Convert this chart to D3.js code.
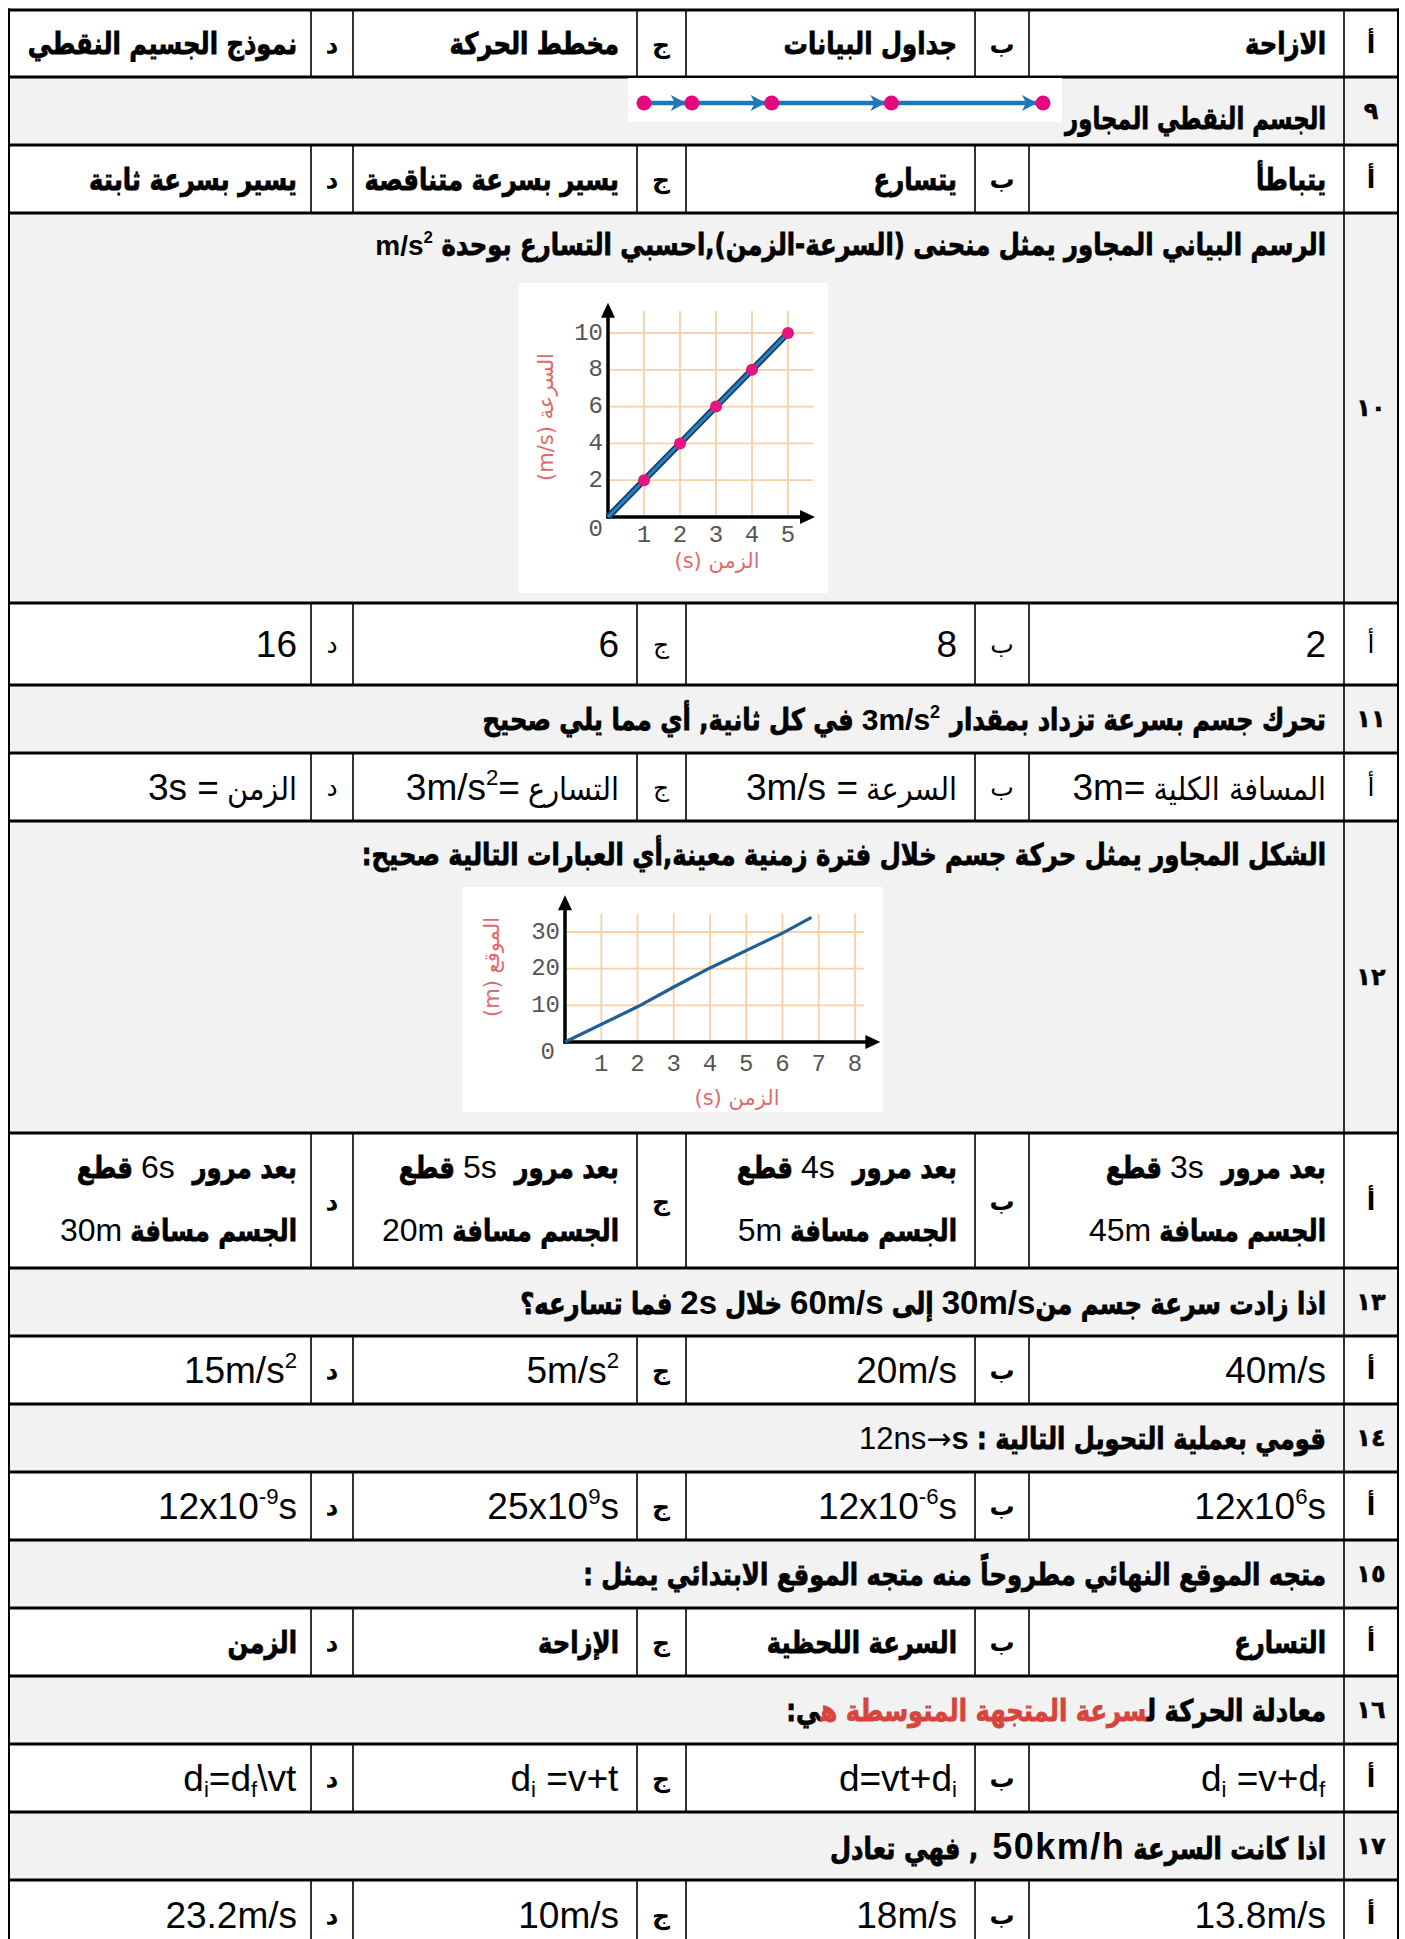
<!DOCTYPE html>
<html lang="ar">
<head>
<meta charset="utf-8">
<title>worksheet</title>
<script src="https://cdn.jsdelivr.net/npm/d3@7"></script>
<style>
  body { margin: 0; background: #fff; }
  svg { display: block; }
</style>
</head>
<body>
<svg id="sheet" width="1405" height="1939"></svg>
<script>
// ---------- chart data ----------
// q9 motion diagram: dot positions along the track
var dotPositions = [0, 1.2, 3.2, 6.2, 10];

// q10 speed-time graph
var speedTimes  = [0, 1, 2, 3, 4, 5];
var speedValues = [0, 2, 4, 6, 8, 10];
var speedTicksX = [1, 2, 3, 4, 5];
var speedTicksY = [2, 4, 6, 8, 10];

// q12 position-time graph
var posTimes  = [0, 2, 3, 4, 6, 6.8];
var posValues = [0, 9.6, 15, 20.2, 29.7, 34];
var posTicksX = [1, 2, 3, 4, 5, 6, 7, 8];
var posTicksY = [10, 20, 30];

// ---------- text runs ----------
// A = arabic bold, R = arabic regular, L = latin, B = latin bold
// ^..^ superscript, _.._ subscript. runs are listed left -> right as seen
function A(t, o) { return Object.assign({t: t, k: "ab"}, o); }
function R(t, o) { return Object.assign({t: t, k: "ar"}, o); }
function L(t, o) { return Object.assign({t: t, k: "l"}, o); }
function B(t, o) { return Object.assign({t: t, k: "lb"}, o); }

var questionNums = ["٩", "١٠", "١١", "١٢", "١٣", "١٤", "١٥", "١٦", "١٧"];
var optionLetters = ["أ", "ب", "ج", "د"];

var questions = [
  [A("الجسم النقطي المجاور", {sq: 0.76})],
  [B("m/s^2^", {size: 28}), A("الرسم البياني المجاور يمثل منحنى (السرعة-الزمن),احسبي التسارع بوحدة")],
  [A("في كل ثانية, أي مما يلي صحيح"), B("3m/s^2^", {size: 30}), A("تحرك جسم بسرعة تزداد بمقدار")],
  [A("الشكل المجاور يمثل حركة جسم خلال فترة زمنية معينة,أي العبارات التالية صحيح:")],
  [A("فما تسارعه؟"), B("2s", {size: 33}), A("خلال"), B("60m/s", {size: 33}), A("إلى"),
   B("30m/s", {size: 33}), A("اذا زادت سرعة جسم من", {gap: 0})],
  [L("12ns", {size: 31}), L("→", {size: 30, gap: 0, font: "'DejaVu Sans', sans-serif"}),
   B("s", {size: 31, gap: 0}), A("قومي بعملية التحويل التالية :")],
  [A("متجه الموقع النهائي مطروحاً منه متجه الموقع الابتدائي يمثل :")],
  [A([["معادلة الحركة ل", "#000"], ["سرعة المتجهة المتوسطة ه", "#d6443c"], ["ي:", "#000"]])],
  [A(", فهي تعادل"), B("50km/h", {size: 36, gap: 14}), A("اذا كانت السرعة")]
];

function one() { return [Array.prototype.slice.call(arguments)]; }
function two(a, b) { return [a, b]; }

var optionRows = [
  [one(A("الازاحة")), one(A("جداول البيانات")), one(A("مخطط الحركة")), one(A("نموذج الجسيم النقطي"))],
  [one(A("يتباطأ")), one(A("يتسارع")), one(A("يسير بسرعة متناقصة")), one(A("يسير بسرعة ثابتة"))],
  [one(L("2")), one(L("8")), one(L("6")), one(L("16"))],
  [one(L("3m="), R("المسافة الكلية")), one(L("3m/s ="), R("السرعة")),
   one(L("3m/s^2^="), R("التسارع")), one(L("3s ="), R("الزمن"))],
  [two([A("قطع"), L("3s", {size: 32}), A("بعد مرور", {gap: 16})], [L("45m", {size: 32}), A("الجسم مسافة")]),
   two([A("قطع"), L("4s", {size: 32}), A("بعد مرور", {gap: 16})], [L("5m", {size: 32}), A("الجسم مسافة")]),
   two([A("قطع"), L("5s", {size: 32}), A("بعد مرور", {gap: 16})], [L("20m", {size: 32}), A("الجسم مسافة")]),
   two([A("قطع"), L("6s", {size: 32}), A("بعد مرور", {gap: 16})], [L("30m", {size: 32}), A("الجسم مسافة")])],
  [one(L("40m/s")), one(L("20m/s")), one(L("5m/s^2^")), one(L("15m/s^2^"))],
  [one(L("12x10^6^s")), one(L("12x10^-6^s")), one(L("25x10^9^s")), one(L("12x10^-9^s"))],
  [one(A("التسارع")), one(A("السرعة اللحظية")), one(A("الإزاحة")), one(A("الزمن"))],
  [one(L("d_i_ =v+d_f_")), one(L("d=vt+d_i_")), one(L("d_i_ =v+t")), one(L("d_i_=d_f_\\vt"))],
  [one(L("13.8m/s")), one(L("18m/s")), one(L("10m/s")), one(L("23.2m/s"))]
];
var optionLetterBold = [true, true, false, false, true, true, true, true, true, true];

// ---------- layout ----------
var FONT_AR = "'DejaVu Sans', sans-serif";
var FONT_LAT = "'Liberation Sans', Arial, sans-serif";
var colEdges = [9, 311, 353, 637, 686, 975, 1029, 1344, 1398];
var rowEdges = [10, 77, 145, 213, 603, 685, 753, 821, 1133, 1268, 1336, 1404,
                1472, 1540, 1608, 1676, 1744, 1812, 1880, 1950];
var cellRight = [1326, 957, 619, 297];
var letterX = [1371, 1002, 661, 332];
var questionY = [118, 244, null, 854, null, null, null, null, null];
var sizes = {ab: 30, ar: 32, l: 37};
var squeeze = {ab: 0.81, ar: 0.9, l: 1, lb: 1};

var svg = d3.select("#sheet");
var nRows = rowEdges.length - 1;
function mid(i) { return (rowEdges[i] + rowEdges[i + 1]) / 2; }

// bands
svg.selectAll("rect.band").data(d3.range(nRows)).join("rect")
  .attr("class", "band")
  .attr("x", colEdges[0]).attr("y", function(i) { return rowEdges[i]; })
  .attr("width", colEdges[8] - colEdges[0])
  .attr("height", function(i) { return rowEdges[i + 1] - rowEdges[i]; })
  .attr("fill", function(i) { return i % 2 ? "#f2f2f2" : "#ffffff"; });

// ---------- text helpers ----------
function parseParts(t) {
  return t.split(/(\^[^\^]*\^|_[^_]*_)/).filter(function(s) { return s.length; }).map(function(s) {
    if (s[0] === "^") return {s: s.slice(1, -1), m: "sup"};
    if (s[0] === "_") return {s: s.slice(1, -1), m: "sub"};
    return {s: s, m: ""};
  });
}

function renderRun(g, run, size) {
  var ar = run.k === "ab" || run.k === "ar";
  var t = g.append("text")
    .attr("font-family", run.font || (ar ? FONT_AR : FONT_LAT))
    .attr("font-weight", (run.k === "ab" || run.k === "lb") ? "bold" : "normal")
    .attr("font-size", size)
    .attr("fill", "#000");
  if (ar) {
    t.attr("direction", "rtl");
    var pieces = Array.isArray(run.t) ? run.t : [[run.t, "#000"]];
    pieces.forEach(function(p) {
      var sp = t.append("tspan").attr("fill", p[1]).text(p[0]);
      if (run.k === "ab") sp.attr("stroke", p[1]).attr("stroke-width", 0.8);
    });
  } else {
    if (run.k === "lb" && run.t.indexOf("km") >= 0) t.attr("letter-spacing", 1.5);
    var cur = 0;
    parseParts(run.t).forEach(function(p) {
      var sp = t.append("tspan").text(p.s);
      var target = p.m === "sup" ? -0.4 * size : p.m === "sub" ? 0.16 * size : 0;
      if (target !== cur) { sp.attr("dy", target - cur); cur = target; }
      if (p.m) sp.attr("font-size", size * 0.6);
    });
  }
  return t;
}

// lay out a line of runs right-aligned at xRight, centred on yMid
function drawLine(parent, runs, xRight, yMid) {
  var g = parent.append("g");
  var sz = runs.map(function(r) { return r.size || sizes[r.k === "lb" ? "l" : r.k]; });
  var baseline = yMid + 0.35 * d3.max(sz);
  var x = xRight;
  for (var i = runs.length - 1; i >= 0; i--) {
    var rg = g.append("g");
    var t = renderRun(rg, runs[i], sz[i]);
    var bb = t.node().getBBox();
    var sx = runs[i].sq || squeeze[runs[i].k];
    var w = bb.width * sx;
    rg.attr("transform", "translate(" + (x - (bb.x + bb.width) * sx) + "," + baseline + ") scale(" + sx + ",1)");
    x -= w + (runs[i].gap != null ? runs[i].gap : 8);
  }
  return g;
}

var textLayer = svg.append("g");

// question rows
questions.forEach(function(runs, k) {
  var i = 2 * k + 1;
  var y = questionY[k] != null ? questionY[k] : mid(i);
  drawLine(textLayer, runs, cellRight[0], y);
  textLayer.append("text")
    .attr("x", letterX[0]).attr("y", mid(i) + 8)
    .attr("text-anchor", "middle")
    .attr("font-family", FONT_AR).attr("font-weight", "bold").attr("font-size", 24)
    .attr("stroke", "#000").attr("stroke-width", 0.5)
    .text(questionNums[k]);
});

// option rows
optionRows.forEach(function(cells, j) {
  var i = 2 * j;
  var cy = mid(i);
  cells.forEach(function(lines, c) {
    textLayer.append("text")
      .attr("x", letterX[c]).attr("y", cy + 9)
      .attr("text-anchor", "middle")
      .attr("font-family", FONT_AR)
      .attr("font-weight", optionLetterBold[j] ? "bold" : "normal")
      .attr("font-size", 25)
      .text(optionLetters[c]);
    if (lines.length === 1) {
      drawLine(textLayer, lines[0], cellRight[c], cy);
    } else {
      drawLine(textLayer, lines[0], cellRight[c], cy - 34);
      drawLine(textLayer, lines[1], cellRight[c], cy + 29);
    }
  });
});

// ---------- grid lines of the table ----------
var lines = svg.append("g").attr("stroke", "#000");
d3.range(nRows).forEach(function(i) {
  var xs = i % 2 ? [colEdges[7]] : colEdges.slice(1, 8);
  xs.forEach(function(x) {
    lines.append("line").attr("x1", x).attr("x2", x)
      .attr("y1", rowEdges[i]).attr("y2", rowEdges[i + 1]).attr("stroke-width", 1.6);
  });
});
[colEdges[0], colEdges[8]].forEach(function(x) {
  lines.append("line").attr("x1", x).attr("x2", x)
    .attr("y1", rowEdges[0] - 1.5).attr("y2", rowEdges[nRows]).attr("stroke-width", 2);
});
lines.selectAll("line.h").data(rowEdges).join("line").attr("class", "h")
  .attr("x1", colEdges[0] - 1).attr("x2", colEdges[8] + 1)
  .attr("y1", function(d) { return d; }).attr("y2", function(d) { return d; })
  .attr("stroke-width", 3.2);

// ---------- q9 motion diagram ----------
var gm = svg.append("g");
gm.append("rect").attr("x", 628).attr("y", 78).attr("width", 434).attr("height", 44).attr("fill", "#fff");
var xm = d3.scaleLinear().domain([0, 10]).range([644, 1043]);
var my = 103;
gm.append("line").attr("x1", xm(0)).attr("x2", xm(10)).attr("y1", my).attr("y2", my)
  .attr("stroke", "#1f77b8").attr("stroke-width", 4.5);
gm.selectAll("path.head").data(dotPositions.slice(1)).join("path").attr("class", "head")
  .attr("d", function(d) {
    var tip = xm(d) - 6;
    return "M" + tip + "," + my + "L" + (tip - 15) + "," + (my - 8) + "L" + (tip - 11) + "," + my +
           "L" + (tip - 15) + "," + (my + 8) + "Z";
  })
  .attr("fill", "#1f77b8");
gm.selectAll("circle").data(dotPositions).join("circle")
  .attr("cx", function(d) { return xm(d); }).attr("cy", my).attr("r", 7.5)
  .attr("fill", "#e6087f");

// ---------- graph helpers ----------
function axisArrows(g, x0, y0, yTop, xEnd) {
  g.append("line").attr("x1", x0).attr("x2", x0).attr("y1", y0 + 1.5).attr("y2", yTop + 12)
    .attr("stroke", "#000").attr("stroke-width", 3.5);
  g.append("line").attr("x1", x0 - 1.5).attr("x2", xEnd - 12).attr("y1", y0).attr("y2", y0)
    .attr("stroke", "#000").attr("stroke-width", 3.5);
  g.append("path").attr("d", "M" + x0 + "," + yTop + "L" + (x0 - 7) + "," + (yTop + 15) + "L" + (x0 + 7) + "," + (yTop + 15) + "Z");
  g.append("path").attr("d", "M" + xEnd + "," + y0 + "L" + (xEnd - 15) + "," + (y0 - 7) + "L" + (xEnd - 15) + "," + (y0 + 7) + "Z");
}
function tickText(g, x, y, txt, anchor) {
  g.append("text").attr("x", x).attr("y", y).attr("text-anchor", anchor)
    .attr("dominant-baseline", "central")
    .attr("font-family", "'Liberation Mono', 'DejaVu Sans Mono', monospace")
    .attr("font-size", 24).attr("fill", "#555").text(txt);
}
function axisTitle(g, x, y, txt, rotate) {
  g.append("text")
    .attr("transform", "translate(" + x + "," + y + ")" + (rotate ? " rotate(-90)" : ""))
    .attr("text-anchor", "middle").attr("dominant-baseline", "central")
    .attr("direction", "rtl")
    .attr("font-family", FONT_AR).attr("font-size", 21).attr("fill", "#e06a6a").text(txt);
}

// ---------- q10 speed-time graph ----------
var g10 = svg.append("g");
g10.append("rect").attr("x", 519).attr("y", 283).attr("width", 309).attr("height", 310).attr("fill", "#fff");
var x10 = d3.scaleLinear().domain([0, 5]).range([608, 788]);
var y10 = d3.scaleLinear().domain([0, 10]).range([517, 333]);
g10.selectAll("line.gv").data(speedTicksX).join("line").attr("class", "gv")
  .attr("x1", x10).attr("x2", x10).attr("y1", y10(0)).attr("y2", y10(11.2))
  .attr("stroke", "#f6d2a6").attr("stroke-width", 1.8);
g10.selectAll("line.gh").data(speedTicksY).join("line").attr("class", "gh")
  .attr("y1", y10).attr("y2", y10).attr("x1", x10(0)).attr("x2", x10(5.7))
  .attr("stroke", "#f6d2a6").attr("stroke-width", 1.8);
axisArrows(g10, x10(0), y10(0), y10(11.65), x10(5.75));
speedTicksY.forEach(function(v) { tickText(g10, x10(0) - 5, y10(v), String(v), "end"); });
speedTicksX.forEach(function(t) { tickText(g10, x10(t), y10(0) + 18, String(t), "middle"); });
tickText(g10, x10(0) - 5, y10(0) + 12, "0", "end");
var speedPts = speedTimes.map(function(t, i) { return [t, speedValues[i]]; });
var line10 = d3.line().x(function(d) { return x10(d[0]); }).y(function(d) { return y10(d[1]); });
g10.append("path").attr("d", line10(speedPts)).attr("fill", "none")
  .attr("stroke", "#123f63").attr("stroke-width", 6.5);
g10.append("path").attr("d", line10(speedPts)).attr("fill", "none")
  .attr("stroke", "#2a7fc0").attr("stroke-width", 3);
g10.selectAll("circle").data(speedPts.slice(1)).join("circle")
  .attr("cx", function(d) { return x10(d[0]); }).attr("cy", function(d) { return y10(d[1]); })
  .attr("r", 6).attr("fill", "#e4157f");
axisTitle(g10, 717, 561, "الزمن (s)", false);
axisTitle(g10, 546, 417, "السرعة (m/s)", true);

// ---------- q12 position-time graph ----------
var g12 = svg.append("g");
g12.append("rect").attr("x", 463).attr("y", 887).attr("width", 420).attr("height", 225).attr("fill", "#fff");
var x12 = d3.scaleLinear().domain([0, 8]).range([565, 855]);
var y12 = d3.scaleLinear().domain([0, 30]).range([1042, 932]);
g12.selectAll("line.gv").data(posTicksX).join("line").attr("class", "gv")
  .attr("x1", x12).attr("x2", x12).attr("y1", y12(0)).attr("y2", y12(35))
  .attr("stroke", "#f6d2a6").attr("stroke-width", 1.8);
g12.selectAll("line.gh").data(posTicksY).join("line").attr("class", "gh")
  .attr("y1", y12).attr("y2", y12).attr("x1", x12(0)).attr("x2", x12(8.25))
  .attr("stroke", "#f6d2a6").attr("stroke-width", 1.8);
axisArrows(g12, x12(0), y12(0), y12(40), x12(8.7));
posTicksY.forEach(function(v) { tickText(g12, x12(0) - 5, y12(v), String(v), "end"); });
posTicksX.forEach(function(t) { tickText(g12, x12(t), y12(0) + 22, String(t), "middle"); });
tickText(g12, x12(0) - 10, y12(0) + 10, "0", "end");
var posPts = posTimes.map(function(t, i) { return [t, posValues[i]]; });
var line12 = d3.line().x(function(d) { return x12(d[0]); }).y(function(d) { return y12(d[1]); });
g12.append("path").attr("d", line12(posPts)).attr("fill", "none")
  .attr("stroke", "#1f5f96").attr("stroke-width", 3.2);
axisTitle(g12, 737, 1098, "الزمن (s)", false);
axisTitle(g12, 492, 967, "الموقع (m)", true);
</script>
</body>
</html>
